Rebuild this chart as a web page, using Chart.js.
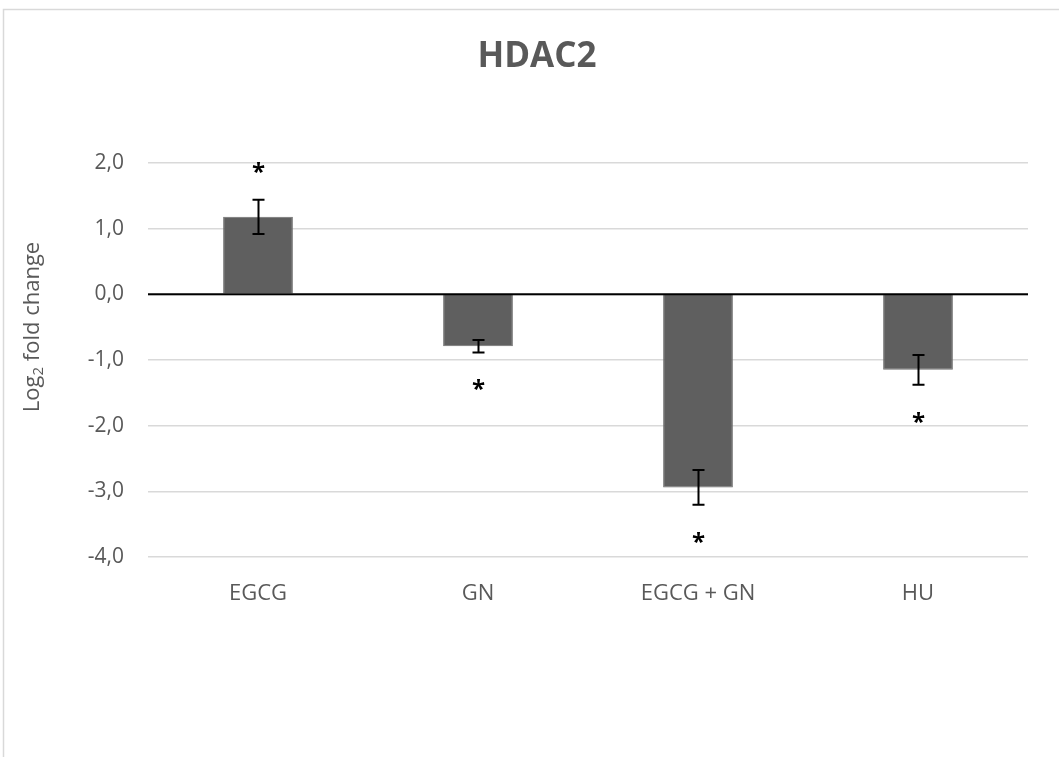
<!DOCTYPE html>
<html>
<head>
<meta charset="utf-8">
<script src="https://cdn.jsdelivr.net/npm/chart.js@4.4.1/dist/chart.umd.min.js"></script>
<style>
  html, body { margin: 0; padding: 0; background: #fff; }
  #wrap { width: 1059px; height: 757px; }
</style>
</head>
<body>
<div id="wrap"><canvas id="hdacChart" width="1059" height="757"></canvas></div>
<script>
// data
const categories = ['EGCG', 'GN', 'EGCG + GN', 'HU'];
const foldChange = [1.18, -0.79, -2.94, -1.15];
const stdError = [0.26, 0.095, 0.265, 0.225];
const significant = [true, true, true, true];
const yTicks = [2, 1, 0, -1, -2, -3, -4];

const FONT = "'Open Sans', sans-serif";
const GREY_TEXT = '#595959';

// frame around the chart, like the office export
const framePlugin = {
  id: 'frame',
  beforeDraw(chart) {
    const ctx = chart.ctx;
    ctx.save();
    ctx.fillStyle = '#fff';
    ctx.fillRect(0, 0, chart.width, chart.height);
    ctx.strokeStyle = '#d9d9d9';
    ctx.lineWidth = 1.5;
    ctx.strokeRect(3.5, 9.5, 1200, 900);

    // title
    ctx.fillStyle = GREY_TEXT;
    ctx.font = 'bold 35px ' + FONT;
    ctx.textAlign = 'center';
    ctx.textBaseline = 'middle';
    ctx.fillText('HDAC2', 537, 57);

    // y axis title with subscript
    ctx.translate(33, 327);
    ctx.rotate(-Math.PI / 2);
    ctx.textBaseline = 'middle';
    ctx.textAlign = 'left';
    const big = '22px ' + FONT, small = '15px ' + FONT;
    ctx.font = big; const w1 = ctx.measureText('Log').width;
    ctx.font = small; const w2 = ctx.measureText('2').width;
    ctx.font = big; const w3 = ctx.measureText(' fold change').width;
    let x = -(w1 + w2 + w3) / 2;
    ctx.font = big; ctx.fillText('Log', x, 0); x += w1;
    ctx.font = small; ctx.fillText('2', x, 6); x += w2;
    ctx.font = big; ctx.fillText(' fold change', x, 0);
    ctx.restore();
  }
};

// zero line, error bars and asterisks on top of the bars
const marksPlugin = {
  id: 'marks',
  afterDatasetsDraw(chart) {
    const ctx = chart.ctx;
    const xs = chart.scales.x, ys = chart.scales.y;
    const area = chart.chartArea;
    ctx.save();
    ctx.strokeStyle = '#000';
    ctx.lineWidth = 2;
    ctx.beginPath();
    ctx.moveTo(area.left, ys.getPixelForValue(0));
    ctx.lineTo(area.right, ys.getPixelForValue(0));
    ctx.stroke();

    foldChange.forEach((v, i) => {
      const cx = Math.round(xs.getPixelForValue(i)) + 0.5;
      const hi = ys.getPixelForValue(v + stdError[i]);
      const lo = ys.getPixelForValue(v - stdError[i]);
      ctx.beginPath();
      ctx.moveTo(cx, hi); ctx.lineTo(cx, lo);
      ctx.moveTo(cx - 6, hi); ctx.lineTo(cx + 6, hi);
      ctx.moveTo(cx - 6, lo); ctx.lineTo(cx + 6, lo);
      ctx.stroke();

      if (significant[i]) {
        const fs = 24;
        const cy = v >= 0 ? hi - 35 : lo + 30;
        ctx.fillStyle = '#000';
        ctx.font = 'bold ' + fs + 'px ' + FONT;
        ctx.textAlign = 'center';
        ctx.textBaseline = 'alphabetic';
        ctx.fillText('*', cx, cy + 0.62 * fs);
      }
    });
    ctx.restore();
  }
};

new Chart(document.getElementById('hdacChart'), {
  type: 'bar',
  data: {
    labels: categories,
    datasets: [{
      data: foldChange,
      backgroundColor: '#5f5f5f',
      borderColor: '#6e6e6e',
      borderWidth: 1,
      categoryPercentage: 1,
      barPercentage: 0.317
    }]
  },
  options: {
    responsive: false,
    animation: false,
    devicePixelRatio: 1,
    layout: { padding: { top: 163, right: 31, left: 0, bottom: 0 } },
    plugins: {
      legend: { display: false },
      tooltip: { enabled: false }
    },
    scales: {
      x: {
        grid: { display: false, drawTicks: false },
        border: { display: false },
        ticks: { color: GREY_TEXT, font: { family: FONT, size: 22 }, padding: 24 },
        afterFit(scale) { scale.height = 200; }
      },
      y: {
        min: -4,
        max: 2,
        afterBuildTicks(scale) { scale.ticks = yTicks.map(v => ({ value: v })); },
        grid: { color: '#d9d9d9', lineWidth: 1.5, drawTicks: false },
        border: { display: false },
        ticks: {
          color: GREY_TEXT,
          font: { family: FONT, size: 21 },
          padding: 24,
          callback: v => v.toFixed(1).replace('.', ',')
        },
        afterFit(scale) { scale.width = 148; }
      }
    }
  },
  plugins: [framePlugin, marksPlugin]
});
</script>
</body>
</html>
